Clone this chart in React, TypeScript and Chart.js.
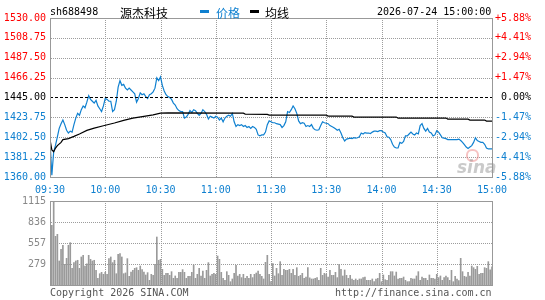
import React, { useEffect, useRef } from "react";
import { Chart, registerables } from "chart.js";
Chart.register(...registerables);

const prevClose = 1445;
const priceTicks = [1360, 1381.25, 1402.5, 1423.75, 1445, 1466.25, 1487.5, 1508.75, 1530];
const priceLabels = ["1360.00", "1381.25", "1402.50", "1423.75", "1445.00", "1466.25", "1487.50", "1508.75", "1530.00"];
const pctLabels = ["-5.88%", "-4.41%", "-2.94%", "-1.47%", "0.00%", "+1.47%", "+2.94%", "+4.41%", "+5.88%"];
const timeTicks = [0, 30, 60, 90, 120, 150, 180, 210, 240];
const timeLabels = ["09:30", "10:00", "10:30", "11:00", "11:30", "13:30", "14:00", "14:30", "15:00"];
const volTicks = [0, 279, 557, 836, 1115];
const volLabels = ["", "279", "557", "836", "1115"];

const prices = [
  1399, 1362, 1387, 1394, 1403, 1412, 1417, 1421, 1416, 1410,
  1407, 1409, 1408, 1416, 1423, 1428, 1426, 1432, 1436, 1434,
  1440, 1447, 1443, 1441, 1439, 1442, 1436, 1433, 1430, 1436,
  1444, 1443, 1441, 1441, 1430, 1432, 1441, 1456, 1463, 1458,
  1459, 1455, 1453, 1455, 1453, 1451, 1449, 1440, 1444, 1450,
  1448, 1449, 1446, 1444, 1448, 1449, 1451, 1455, 1466, 1463,
  1467, 1458, 1452, 1448, 1446, 1445, 1443, 1439, 1437, 1433,
  1431, 1430, 1430, 1423, 1424, 1427, 1431, 1429, 1432, 1431,
  1428, 1426, 1428, 1432, 1430, 1427, 1422, 1425, 1424, 1423,
  1425, 1424, 1421, 1423, 1419, 1423, 1425, 1426, 1425, 1428,
  1419, 1414, 1416, 1415, 1416, 1414, 1415, 1413, 1414, 1412,
  1414, 1413, 1411, 1405, 1404, 1405, 1405, 1408, 1416, 1420,
  1419, 1418, 1418, 1417, 1416.5, 1416, 1413, 1415, 1419, 1430,
  1429, 1432, 1436, 1433, 1428, 1420, 1417, 1418, 1417.5, 1414,
  1415, 1414, 1416, 1412, 1410.5, 1410, 1410.5, 1415, 1419, 1418,
  1417.5, 1417, 1415, 1414, 1413, 1411.5, 1410, 1411, 1407, 1402,
  1398.5, 1400.5, 1401, 1401.5, 1401, 1402, 1401.5, 1402, 1403, 1407,
  1406, 1407.5, 1407, 1407, 1406.5, 1408, 1409, 1409, 1408.5, 1409.5,
  1409.5, 1408, 1407, 1403, 1402.5, 1400, 1395, 1392, 1391, 1391,
  1397, 1396, 1398, 1404, 1404, 1406, 1408, 1406, 1405, 1407,
  1406, 1415, 1417, 1412, 1409, 1412, 1408, 1407, 1404, 1405,
  1409.5, 1408, 1405, 1402, 1401.5, 1401, 1400, 1400, 1400, 1400,
  1400, 1400, 1400.5, 1399, 1397, 1394.5, 1392, 1390.5, 1392, 1393.5,
  1397, 1402, 1399, 1398, 1397, 1397, 1395, 1391, 1390, 1390,
  1390,
];

const avgMinutes = [0, 1, 2, 3, 4, 6, 7, 10, 13, 16, 20, 24, 29, 35, 40, 45, 51, 56, 60, 64, 105, 106, 118, 119, 150, 151, 164, 165, 188, 189, 215, 216, 227, 228, 236, 237, 240];
const avgValues = [1400, 1389, 1387, 1391, 1393.5, 1397, 1400, 1401, 1403.4, 1406, 1409.8, 1412.3, 1414.8, 1417.7, 1420.5, 1423, 1424.8, 1426.5, 1428.3, 1428.5, 1428.3, 1427.3, 1427, 1426.2, 1426.2, 1425.1, 1425.1, 1424.1, 1424.1, 1423, 1423, 1421.9, 1421.9, 1420.9, 1420.9, 1419.8, 1419.8];

const volumes = [
  328, 792, 1115, 646, 673, 319, 474, 527, 274, 354,
  527, 562, 221, 297, 319, 328, 221, 372, 394, 252,
  280, 394, 341, 319, 328, 195, 89, 150, 168, 142,
  168, 142, 350, 372, 297, 328, 150, 407, 416, 372,
  150, 160, 350, 115, 172, 195, 221, 230, 195, 252,
  204, 172, 133, 164, 62, 142, 128, 274, 637, 328,
  341, 208, 128, 155, 155, 128, 177, 89, 120, 89,
  168, 168, 204, 168, 89, 115, 115, 168, 266, 89,
  142, 221, 120, 186, 89, 195, 297, 120, 142, 155,
  142, 385, 341, 168, 89, 62, 177, 128, 44, 80,
  155, 261, 120, 142, 98, 142, 89, 115, 89, 142,
  98, 142, 159, 186, 142, 115, 80, 301, 394, 142,
  44,
  283, 120, 221, 150, 310, 128, 208, 195, 195, 208,
  155, 208, 128, 230, 115, 128, 155, 89, 106, 230,
  95, 80, 80, 89, 98, 62, 221, 128, 155, 142,
  106, 195, 128, 128, 168, 98, 274, 208, 120, 199,
  128, 89, 128, 80, 62, 80, 62, 80, 80, 98,
  106, 62, 62, 62, 80, 44, 80, 89, 155, 44,
  133, 70, 62, 128, 177, 177, 120, 172, 80, 89,
  89, 106, 62, 44, 44, 89, 80, 80, 120, 177,
  62, 106, 90, 89, 62, 133, 89, 89, 80, 142,
  98, 120, 62, 100, 120, 98, 62, 195, 44, 115,
  80, 60, 354, 177, 115, 106, 168, 120, 252, 230,
  208, 248, 142, 155, 155, 230, 221, 310, 200, 240,
];

const BLUE = "#0f80d0";
const RED = "#ff0000";
const GRID = "#9c9c9c";
const FRAME = "#999999";
const MONO = "'DejaVu Sans Mono', 'Liberation Mono', monospace";
const CJK = "'Noto Sans CJK SC', sans-serif";

// Dotted grid at the pixels of the chart's own scales, plus a solid frame.
const makeGridPlugin = (yValues: number[], skipValue: number | null) => ({
  id: "dotgrid",
  beforeDatasetsDraw(chart: any) {
    const { ctx, chartArea, scales } = chart;
    const l = Math.round(chartArea.left);
    const t = Math.round(chartArea.top);
    const r = Math.round(chartArea.right);
    const b = Math.round(chartArea.bottom);
    ctx.save();
    ctx.fillStyle = GRID;
    const xs = scales.x;
    for (const v of timeTicks) {
      const px = Math.round(xs.getPixelForValue(v));
      if (px <= l + 1 || px >= r - 1) continue;
      for (let y = t + 2; y < b; y += 2) ctx.fillRect(px, y, 1, 1);
    }
    const ys = scales.y;
    for (const v of yValues) {
      if (skipValue !== null && v === skipValue) continue;
      const py = Math.round(ys.getPixelForValue(v));
      if (!(py > t + 1 && py < b - 1)) continue;
      for (let x = l + 1; x < r; x += 2) ctx.fillRect(x, py, 1, 1);
    }
    ctx.restore();
  },
  afterDatasetsDraw(chart: any) {
    const { ctx, chartArea } = chart;
    ctx.save();
    ctx.strokeStyle = FRAME;
    ctx.lineWidth = 1;
    ctx.setLineDash([]);
    const l = Math.round(chartArea.left) + 0.5;
    const t = Math.round(chartArea.top) + 0.5;
    const r = Math.round(chartArea.right) + 0.5;
    const b = Math.round(chartArea.bottom) + 0.5;
    ctx.strokeRect(l, t, r - l, b - t);
    ctx.restore();
  },
});

const priceColor = (v: number) => (v > prevClose ? RED : v === prevClose ? "#000" : BLUE);

export default function App() {
  const mainRef = useRef<HTMLCanvasElement>(null);
  const volRef = useRef<HTMLCanvasElement>(null);

  useEffect(() => {
    const font = { family: MONO, size: 10 };
    const main = new Chart(mainRef.current!, {
      type: "line",
      data: {
        datasets: [
          {
            data: [{ x: 0, y: prevClose }, { x: 240, y: prevClose }],
            borderColor: "#000",
            borderWidth: 1,
            borderDash: [3, 2],
            pointRadius: 0,
          },
          {
            data: avgMinutes.map((m, i) => ({ x: m, y: avgValues[i] })),
            borderColor: "#000",
            borderWidth: 1.2,
            pointRadius: 0,
          },
          {
            data: prices.map((p, i) => ({ x: i, y: p })),
            borderColor: BLUE,
            borderWidth: 1.2,
            pointRadius: 0,
          },
        ],
      },
      options: {
        animation: false,
        responsive: false,
        events: [],
        layout: { padding: { top: 18, right: 14, left: 0, bottom: 0 } },
        plugins: { legend: { display: false }, tooltip: { enabled: false } },
        scales: {
          x: {
            type: "linear",
            min: 0,
            max: 240,
            afterBuildTicks: (s: any) => {
              s.ticks = timeTicks.map((v) => ({ value: v }));
            },
            afterFit: (s: any) => {
              s.height = 23;
            },
            ticks: {
              callback: (_v: any, i: number) => timeLabels[i],
              color: BLUE,
              font,
              padding: 7,
              maxRotation: 0,
              autoSkip: false,
            },
            grid: { display: false, drawTicks: false },
            border: { display: false },
          },
          y: {
            position: "left",
            min: 1360,
            max: 1530,
            afterBuildTicks: (s: any) => {
              s.ticks = priceTicks.map((v) => ({ value: v }));
            },
            afterFit: (s: any) => {
              s.width = 50;
            },
            ticks: {
              callback: (_v: any, i: number) => priceLabels[i],
              color: (c: any) => priceColor(c.tick.value),
              font,
              padding: 4,
            },
            grid: { display: false, drawTicks: false },
            border: { display: false },
          },
          y2: {
            position: "right",
            min: 1360,
            max: 1530,
            afterBuildTicks: (s: any) => {
              s.ticks = priceTicks.map((v) => ({ value: v }));
            },
            afterFit: (s: any) => {
              s.width = 39;
            },
            ticks: {
              callback: (_v: any, i: number) => pctLabels[i],
              color: (c: any) => priceColor(c.tick.value),
              font,
              padding: 3,
              crossAlign: "far",
            },
            grid: { display: false, drawTicks: false },
            border: { display: false },
          },
        },
      } as any,
      plugins: [makeGridPlugin(priceTicks, prevClose)],
    });

    const vol = new Chart(volRef.current!, {
      type: "bar",
      data: {
        datasets: [
          {
            data: volumes.map((v, i) => ({ x: i, y: v })),
            backgroundColor: "#9a9a9a",
            borderWidth: 0,
            barThickness: 1,
          },
        ],
      },
      options: {
        animation: false,
        responsive: false,
        events: [],
        layout: { padding: { top: 11, right: 53, left: 0, bottom: 0 } },
        plugins: { legend: { display: false }, tooltip: { enabled: false } },
        scales: {
          x: {
            type: "linear",
            min: 0,
            max: 240,
            offset: false,
            afterBuildTicks: (s: any) => {
              s.ticks = timeTicks.map((v) => ({ value: v }));
            },
            afterFit: (s: any) => {
              s.height = 15;
            },
            ticks: { display: false },
            grid: { display: false, drawTicks: false, offset: false },
            border: { display: false },
          },
          y: {
            position: "left",
            min: 0,
            max: 1115,
            afterBuildTicks: (s: any) => {
              s.ticks = volTicks.map((v) => ({ value: v }));
            },
            afterFit: (s: any) => {
              s.width = 50;
            },
            ticks: {
              callback: (_v: any, i: number) => volLabels[i],
              color: "#888888",
              font,
              padding: 4,
            },
            grid: { display: false, drawTicks: false },
            border: { display: false },
          },
        },
      } as any,
      plugins: [makeGridPlugin(volTicks, null)],
    });

    return () => {
      main.destroy();
      vol.destroy();
    };
  }, []);

  const abs = (extra: React.CSSProperties): React.CSSProperties => ({
    position: "absolute",
    whiteSpace: "nowrap",
    lineHeight: 1,
    ...extra,
  });

  return (
    <div style={{ position: "absolute", left: 0, top: 0, width: 545, height: 300, background: "#fff", overflow: "hidden" }}>
      <canvas ref={mainRef} width={545} height={200} style={{ position: "absolute", left: 0, top: 0 }} />
      <canvas ref={volRef} width={545} height={110} style={{ position: "absolute", left: 0, top: 190 }} />
      <div style={abs({ left: 50, top: 6, font: `10px ${MONO}`, color: "#000" })}>sh688498</div>
      <div style={abs({ left: 120, top: 4, font: `12px ${CJK}`, color: "#000" })}>源杰科技</div>
      <div style={abs({ left: 200, top: 10, width: 9, height: 3, background: BLUE })} />
      <div style={abs({ left: 216, top: 4, font: `12px ${CJK}`, color: BLUE })}>价格</div>
      <div style={abs({ left: 250, top: 10, width: 9, height: 3, background: "#000" })} />
      <div style={abs({ left: 265, top: 4, font: `12px ${CJK}`, color: "#000" })}>均线</div>
      <div style={abs({ left: 377, top: 6, font: `10px ${MONO}`, color: "#000" })}>2026-07-24 15:00:00</div>
      <div style={abs({ left: 50, top: 287, font: `10px ${MONO}`, color: "#555" })}>Copyright 2026 SINA.COM</div>
      <div style={abs({ left: 335, top: 287, font: `10px ${MONO}`, color: "#555" })}>http://finance.sina.com.cn</div>
      <div style={abs({ left: 466, top: 149, width: 9, height: 9, borderRadius: 6, border: "2px solid rgba(235,120,120,0.45)" })} />
      <div style={abs({ left: 457, top: 157, font: `italic bold 17px 'DejaVu Sans', sans-serif`, color: "rgba(150,150,150,0.5)" })}>sina</div>
    </div>
  );
}
